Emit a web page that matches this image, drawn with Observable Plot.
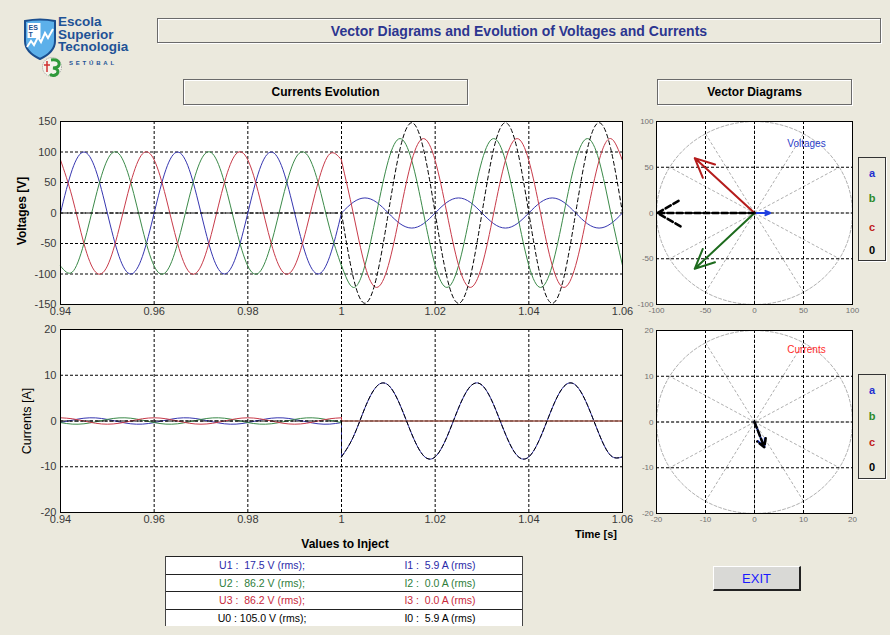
<!DOCTYPE html>
<html><head><meta charset="utf-8">
<script src="https://cdn.jsdelivr.net/npm/d3@7"></script>
<script src="https://cdn.jsdelivr.net/npm/@observablehq/plot@0.6"></script>
<style>
body{margin:0;background:#ebe9dd;font-family:"Liberation Sans",Arial,sans-serif;}
#root{position:relative;width:890px;height:635px;overflow:hidden;background:#ebe9dd;}
.abs{position:absolute;}
.panel{position:absolute;box-sizing:border-box;border:1px solid #6a6a6a;box-shadow:1px 1px 0 #ffffff, inset 1px 1px 0 #ffffff;display:flex;align-items:center;justify-content:center;font-weight:bold;white-space:nowrap;}
.logo{position:absolute;left:58px;color:#1e5296;font-weight:bold;font-size:13.5px;line-height:12px;height:12px;white-space:nowrap;}
.leg{position:absolute;box-sizing:border-box;border:1px solid #333;box-shadow:1px 1px 0 #fff;}
.leg span{position:absolute;left:0;width:100%;text-align:center;font-weight:bold;font-size:11px;transform:translateY(-50%);}
.row{position:absolute;left:0;width:100%;box-sizing:border-box;background:#fff;border-top:1.5px solid #222;}
.row span{position:absolute;top:50%;transform:translate(-50%,-50%);font-size:10.5px;white-space:pre;}
</style></head>
<body><div id="root"></div>
<script>
// ---------- data ----------
const phases = ["a", "b", "c", "0"];
const curveColors = ["#3636b0", "#3b8a49", "#c83b4a", "#000000"];
const arrowColors = ["#1f3fe0", "#1d6b1d", "#b51c1c", "#000000"];
const legendColors = ["#1f2fd0", "#2a8a2a", "#c02020", "#000000"];

const timeTicks = [0.94, 0.96, 0.98, 1, 1.02, 1.04, 1.06];
const voltTicks = [-150, -100, -50, 0, 50, 100, 150];
const curTicks = [-20, -10, 0, 10, 20];
const vecVoltTicks = [-100, -50, 0, 50, 100];
const vecCurTicks = [-20, -10, 0, 10, 20];
const spokeAngles = [0, 30, 60, 90, 120, 150, 180, 210, 240, 270, 300, 330];

const tPre = [0.9400,0.9425,0.9450,0.9475,0.9500,0.9525,0.9550,0.9575,0.9600,0.9625,0.9650,0.9675,0.9700,0.9725,0.9750,0.9775,0.9800,0.9825,0.9850,0.9875,0.9900,0.9925,0.9950,0.9975,1.0000];
const tPost = [1.0000,1.0025,1.0050,1.0075,1.0100,1.0125,1.0150,1.0175,1.0200,1.0225,1.0250,1.0275,1.0300,1.0325,1.0350,1.0375,1.0400,1.0425,1.0450,1.0475,1.0500,1.0525,1.0550,1.0575,1.0600];

// voltages [V]
const vaPre = [0,71,100,71,0,-71,-100,-71, 0,71,100,71,0,-71,-100,-71, 0,71,100,71,0,-71,-100,-71, 0];
const vbPre = [-87,-97,-50,26,87,97,50,-26, -87,-97,-50,26,87,97,50,-26, -87,-97,-50,26,87,97,50,-26, -87];
const vcPre = [87,26,-50,-97,-87,-26,50,97, 87,26,-50,-97,-87,-26,50,97, 87,26,-50,-97,-87,-26,50,97, 87];
const v0Pre = [0,0,0,0,0,0,0,0, 0,0,0,0,0,0,0,0, 0,0,0,0,0,0,0,0, 0];
const vaPost = [0,17.5,24.7,17.5,0,-17.5,-24.7,-17.5, 0,17.5,24.7,17.5,0,-17.5,-24.7,-17.5, 0,17.5,24.7,17.5,0,-17.5,-24.7,-17.5, 0];
const vbPost = [-86,-122,-86,0,86,122,86,0, -86,-122,-86,0,86,122,86,0, -86,-122,-86,0,86,122,86,0, -86];
const vcPost = [86,0,-86,-122,-86,0,86,122, 86,0,-86,-122,-86,0,86,122, 86,0,-86,-122,-86,0,86,122, 86];
const v0Post = [0,-105,-148,-105,0,105,148,105, 0,-105,-148,-105,0,105,148,105, 0,-105,-148,-105,0,105,148,105, 0];

// currents [A]
const iaPre = [-0.35,0.18,0.61,0.68,0.35,-0.18,-0.61,-0.68, -0.35,0.18,0.61,0.68,0.35,-0.18,-0.61,-0.68, -0.35,0.18,0.61,0.68,0.35,-0.18,-0.61,-0.68, -0.35];
const ibPre = [-0.35,-0.68,-0.61,-0.18,0.35,0.68,0.61,0.18, -0.35,-0.68,-0.61,-0.18,0.35,0.68,0.61,0.18, -0.35,-0.68,-0.61,-0.18,0.35,0.68,0.61,0.18, -0.35];
const icPre = [0.7,0.49,0,-0.49,-0.7,-0.49,0,0.49, 0.7,0.49,0,-0.49,-0.7,-0.49,0,0.49, 0.7,0.49,0,-0.49,-0.7,-0.49,0,0.49, 0.7];
const i0Pre = [0,0,0,0,0,0,0,0, 0,0,0,0,0,0,0,0, 0,0,0,0,0,0,0,0, 0];
const iaPost = [-7.84,-3.52,2.85,7.56,7.84,3.52,-2.85,-7.56, -7.84,-3.52,2.85,7.56,7.84,3.52,-2.85,-7.56, -7.84,-3.52,2.85,7.56,7.84,3.52,-2.85,-7.56, -7.84];
const ibPost = [0,0,0,0,0,0,0,0, 0,0,0,0,0,0,0,0, 0,0,0,0,0,0,0,0, 0];
const icPost = [0,0,0,0,0,0,0,0, 0,0,0,0,0,0,0,0, 0,0,0,0,0,0,0,0, 0];
const i0Post = [-7.84,-3.52,2.85,7.56,7.84,3.52,-2.85,-7.56, -7.84,-3.52,2.85,7.56,7.84,3.52,-2.85,-7.56, -7.84,-3.52,2.85,7.56,7.84,3.52,-2.85,-7.56, -7.84];

// phasors (tip coordinates)
const vecVoltX = [16, -61, -61, -99];
const vecVoltY = [0, -61, 60, 0];
const vecCurX = [2.0, 0, 0, 2.0];
const vecCurY = [-5.5, 0, 0, -5.5];

// table
const tableU = ["U1 :  17.5 V (rms);", "U2 :  86.2 V (rms);", "U3 :  86.2 V (rms);", "U0 : 105.0 V (rms);"];
const tableI = ["I1 :  5.9 A (rms)", "I2 :  0.0 A (rms)", "I3 :  0.0 A (rms)", "I0 :  5.9 A (rms)"];
const tableColors = ["#2a2aa8", "#2e7d3a", "#c8283a", "#000000"];

// ---------- layout ----------
const root = document.getElementById("root");
function add(html){ root.insertAdjacentHTML("beforeend", html); }

// logo
add(`<svg class="abs" style="left:22px;top:18px" width="36" height="42" viewBox="0 0 36 42">
 <path d="M3 3 Q18 0 33 3 L33 23 Q33 34 18 41 Q3 34 3 23 Z" fill="#5cb0ea" stroke="#1b4e8e" stroke-width="2"/>
 <rect x="5.5" y="5" width="13" height="15" fill="#fff"/>
 <text x="6.5" y="11.5" font-size="7" font-weight="bold" fill="#1b4e8e" font-family="Liberation Sans">ES</text>
 <text x="6.5" y="19" font-size="7" font-weight="bold" fill="#1b4e8e" font-family="Liberation Sans">T</text>
 <polyline points="5,29 9,23 12,27 16,19 19,24 23,15 26,20 31,11" fill="none" stroke="#fff" stroke-width="2"/>
</svg>`);
add(`<div class="logo" style="top:16px">Escola</div>`);
add(`<div class="logo" style="top:28.5px">Superior</div>`);
add(`<div class="logo" style="top:41px">Tecnologia</div>`);
add(`<svg class="abs" style="left:40px;top:56px" width="24" height="22" viewBox="0 0 24 22">
 <circle cx="12" cy="11" r="9.5" fill="#f4f4ec" stroke="#8a8a8a" stroke-width="0.8" stroke-dasharray="1,1"/>
 <path d="M11 4 Q20 3 19 9 Q18 12 13 12 Q20 13 17 18 Q13 21 10 18" fill="none" stroke="#2f9a3a" stroke-width="3"/>
 <path d="M7 5 L7 16 M4 9 L10 9" stroke="#d03030" stroke-width="1.5"/>
</svg>`);
add(`<div class="abs" style="left:69px;top:60px;color:#1e5296;font-weight:bold;font-size:6px;letter-spacing:2.8px">SETÚBAL</div>`);

// panels
add(`<div class="panel" style="left:157px;top:18px;width:724px;height:25px;color:#2c3690;font-size:14px">Vector Diagrams and Evolution of Voltages and Currents</div>`);
add(`<div class="panel" style="left:183px;top:79px;width:285px;height:26px;color:#000;font-size:12px">Currents Evolution</div>`);
add(`<div class="panel" style="left:657px;top:79px;width:195px;height:26px;color:#000;font-size:12px">Vector Diagrams</div>`);

// axis titles
add(`<div class="abs" style="left:22px;top:211px;transform:translate(-50%,-50%) rotate(-90deg);font-weight:bold;font-size:12px;white-space:nowrap">Voltages [V]</div>`);
add(`<div class="abs" style="left:27px;top:421px;transform:translate(-50%,-50%) rotate(-90deg);font-size:12.5px;white-space:nowrap">Currents [A]</div>`);
add(`<div class="abs" style="left:575px;top:528px;font-weight:bold;font-size:11px;white-space:nowrap">Time [s]</div>`);
add(`<div class="abs" style="left:345px;top:544px;transform:translate(-50%,-50%);font-weight:bold;font-size:12px;white-space:nowrap">Values to Inject</div>`);

// ---------- time plots ----------
const gridStyle = {stroke: "#000", strokeOpacity: 1, strokeWidth: 1, strokeDasharray: "3,2"};
function timePlot(pres, posts, yTicks, yDomain){
  const marks = [Plot.frame({fill: "white", stroke: null}),
    Plot.gridX(timeTicks, gridStyle), Plot.gridY(yTicks, gridStyle)];
  phases.forEach((p, i) => {
    const pre = tPre.map((t, j) => ({t, v: pres[i][j]}));
    const post = tPost.map((t, j) => ({t, v: posts[i][j]}));
    const join = [pre[pre.length - 1], post[0]];
    const o = {x: "t", y: "v", stroke: curveColors[i], strokeWidth: 1, strokeDasharray: p === "0" ? "4,3" : null};
    marks.push(Plot.line(pre, {...o, curve: "natural"}), Plot.line(join, o), Plot.line(post, {...o, curve: "natural"}));
  });
  marks.push(Plot.frame({stroke: "#000", strokeWidth: 1}));
  return Plot.plot({
    width: 640, height: 215, marginLeft: 60, marginRight: 18, marginTop: 10, marginBottom: 22,
    x: {domain: [0.94, 1.06], ticks: timeTicks, tickFormat: d => String(d), tickSize: 0, tickPadding: 3, label: null},
    y: {domain: yDomain, ticks: yTicks, tickFormat: d => String(d), tickSize: 0, tickPadding: 4, label: null},
    style: {background: "transparent", fontSize: "11px", color: "#3a3a3a", fontFamily: "Liberation Sans, Arial, sans-serif"},
    marks
  });
}
function place(el, left, top){ el.style.position = "absolute"; el.style.left = left + "px"; el.style.top = top + "px"; root.appendChild(el); }

place(timePlot([vaPre, vbPre, vcPre, v0Pre], [vaPost, vbPost, vcPost, v0Post], voltTicks, [-150, 150]), 0, 111);
place(timePlot([iaPre, ibPre, icPre, i0Pre], [iaPost, ibPost, icPost, i0Post], curTicks, [-20, 20]), 0, 319);

// ---------- vector plots ----------
function vecPlot(lim, ticks, xs, ys, label, labelColor, head, labelDy){
  const rad = Math.PI / 180;
  const spokes = spokeAngles.map(a => ({x1: 0, y1: 0, x2: lim * Math.cos(a * rad), y2: lim * Math.sin(a * rad)}));
  const circle = d3.range(0, 361, 3).map(a => ({x: lim * Math.cos(a * rad), y: lim * Math.sin(a * rad)}));
  const vecs = phases.map((p, i) => ({p, x1: 0, y1: 0, x2: xs[i], y2: ys[i], c: arrowColors[i]}))
    .filter(d => d.x2 !== 0 || d.y2 !== 0);
  const inner = ticks.filter(t => Math.abs(t) < lim);
  return Plot.plot({
    width: 230, height: 213, marginLeft: 26, marginRight: 8, marginTop: 10, marginBottom: 20,
    x: {domain: [-lim, lim], ticks, tickFormat: d => String(d), tickSize: 0, tickPadding: 3, label: null},
    y: {domain: [-lim, lim], ticks, tickFormat: d => String(d), tickSize: 0, tickPadding: 3, label: null},
    style: {background: "transparent", fontSize: "8px", color: "#707070", fontFamily: "Liberation Sans, Arial, sans-serif"},
    marks: [
      Plot.frame({fill: "white", stroke: null}),
      Plot.link(spokes, {x1: "x1", y1: "y1", x2: "x2", y2: "y2", stroke: "#9a9a9a", strokeWidth: 0.8, strokeDasharray: "3,2"}),
      Plot.line(circle, {x: "x", y: "y", stroke: "#9a9a9a", strokeWidth: 0.8, strokeDasharray: "3,2"}),
      Plot.gridX(inner, gridStyle), Plot.gridY(inner, gridStyle),
      Plot.arrow(vecs.filter(d => d.p !== "0"), {x1: "x1", y1: "y1", x2: "x2", y2: "y2", stroke: "c", strokeWidth: 2, headLength: head, headAngle: 50}),
      Plot.arrow(vecs.filter(d => d.p === "0"), {x1: "x1", y1: "y1", x2: "x2", y2: "y2", stroke: "c", strokeWidth: 2.5, headLength: head, headAngle: 60, strokeDasharray: "6,3"}),
      Plot.text([label], {text: d => d, frameAnchor: "top-right", dx: -46, dy: labelDy, textAnchor: "middle", lineAnchor: "top", fill: labelColor, fontSize: 10}),
      Plot.frame({stroke: "#000", strokeWidth: 1})
    ]
  });
}
place(vecPlot(100, vecVoltTicks, vecVoltX, vecVoltY, "Voltages", "#2a3cc8", 16, 18), 630, 111);
place(vecPlot(20, vecCurTicks, vecCurX, vecCurY, "Currents", "#ff2a2a", 8, 15), 630, 320);

// legends
function legend(top, height, ys){
  let h = `<div class="leg" style="left:858px;top:${top}px;width:28px;height:${height}px">`;
  phases.forEach((p, i) => { h += `<span style="top:${ys[i]}px;color:${legendColors[i]}">${p}</span>`; });
  add(h + `</div>`);
}
legend(157, 104, [15, 40, 69, 92]);
legend(374, 105, [15, 41, 67, 92]);

// table
let tbl = `<div class="abs" style="left:165px;top:556px;width:358px;height:70px;border:1px solid #444;border-top:none;box-sizing:border-box;background:#fff">`;
tableU.forEach((u, i) => {
  tbl += `<div class="row" style="top:${i * 17.5}px;height:17.5px"><span style="left:96px;color:${tableColors[i]}">${u}</span><span style="left:274px;color:${tableColors[i]}">${tableI[i]}</span></div>`;
});
add(tbl + `</div>`);

// exit button
add(`<div class="abs" style="left:713px;top:566px;width:88px;height:25px;box-sizing:border-box;background:#d9d9d6;border-top:1px solid #fff;border-left:1px solid #fff;border-right:2px solid #222;border-bottom:2px solid #222;display:flex;align-items:center;justify-content:center;color:#1a1aff;font-size:13px">EXIT</div>`);
</script>
</body></html>
